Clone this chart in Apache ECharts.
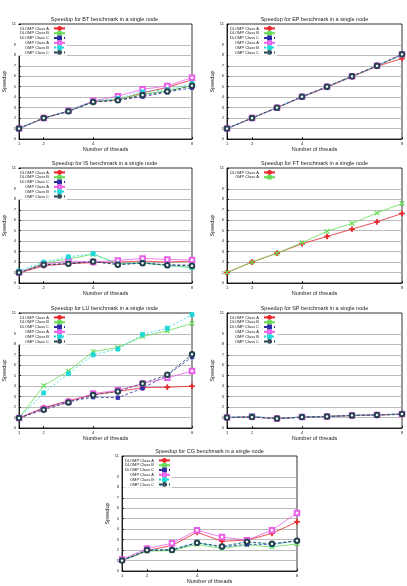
<!DOCTYPE html>
<html><head><meta charset="utf-8">
<script src="https://cdn.jsdelivr.net/npm/echarts@6/dist/echarts.min.js"></script>
<style>html,body{margin:0;padding:0;background:#fff}#c{width:407px;height:586px}</style>
</head><body><div id="c"></div>
<script>
// ---------- data ----------
const threads = [1, 2, 3, 4, 5, 6, 7, 8];
const xTickValues = [1, 2, 4, 8];
const yTickValues = [0, 1, 2, 3, 4, 5, 6, 7, 8, 9, 11];

const BT_DLOMP_A = [1, 2, 2.65, 3.6, 3.75, 4.4, 4.95, 5.65];
const BT_DLOMP_B = [1, 2, 2.65, 3.55, 3.8, 4.3, 4.6, 5.1];
const BT_DLOMP_C = [1, 2, 2.65, 3.55, 3.7, 4.05, 4.5, 4.9];
const BT_OMP_A   = [1, 2, 2.7, 3.65, 4.1, 4.75, 5.08, 5.87];
const BT_OMP_B   = [1, 2, 2.7, 3.6, 3.9, 4.5, 4.72, 5.3];
const BT_OMP_C   = [1, 2, 2.65, 3.55, 3.7, 4.2, 4.55, 5.1];

const EP_DLOMP_A = [1, 2, 3, 4, 4.95, 5.95, 6.95, 7.7];
const EP_DLOMP_B = [1, 2, 3, 4.05, 5, 6, 7, 8.0];
const EP_DLOMP_C = [1, 2, 3, 4.05, 5, 6, 7, 8.1];
const EP_OMP_A   = [1, 2, 3, 4.05, 5, 6, 7, 8.1];
const EP_OMP_B   = [1, 2, 3, 4.05, 5, 6, 7, 8.1];
const EP_OMP_C   = [1, 2, 3, 4.05, 5, 6, 7, 8.1];

const IS_DLOMP_A = [0.95, 1.65, 1.85, 1.95, 2.0, 2.1, 2.0, 2.1];
const IS_DLOMP_B = [1.0, 1.9, 2.3, 2.75, 1.85, 1.9, 1.7, 1.45];
const IS_DLOMP_C = [1.0, 1.75, 1.85, 2.05, 1.8, 1.9, 1.75, 1.7];
const IS_OMP_A   = [1.0, 1.8, 2.1, 2.0, 2.15, 2.35, 2.25, 2.2];
const IS_OMP_B   = [1.15, 2.0, 2.5, 2.8, 1.8, 1.95, 1.65, 1.5];
const IS_OMP_C   = [1.0, 1.75, 1.85, 2.05, 1.75, 1.9, 1.7, 1.65];

const FT_DLOMP_A = [1, 2, 2.85, 3.75, 4.45, 5.15, 5.85, 6.65];
const FT_OMP_A   = [1, 2, 2.85, 3.85, 4.95, 5.7, 6.7, 7.6];

const LU_DLOMP_A = [0.95, 1.95, 2.6, 3.2, 3.5, 3.85, 3.9, 4.0];
const LU_DLOMP_B = [0.95, 4.05, 5.45, 7.3, 7.7, 8.75, 9.3, 10.0];
const LU_DLOMP_C = [0.95, 1.9, 2.55, 2.95, 2.9, 3.8, 5.05, 6.8];
const LU_OMP_A   = [0.95, 1.85, 2.5, 3.3, 3.6, 4.25, 4.8, 5.45];
const LU_OMP_B   = [0.95, 3.35, 5.2, 7.0, 7.55, 8.95, 9.55, 10.85];
const LU_OMP_C   = [0.95, 1.75, 2.45, 3.15, 3.5, 4.25, 5.1, 7.05];

const SP_DLOMP_A = [1.0, 1.05, 0.9, 1.05, 1.1, 1.2, 1.25, 1.3];
const SP_DLOMP_B = [1.0, 1.1, 0.9, 1.05, 1.1, 1.2, 1.25, 1.3];
const SP_DLOMP_C = [1.0, 1.05, 0.9, 1.0, 1.1, 1.2, 1.25, 1.3];
const SP_OMP_A   = [1.0, 1.1, 0.9, 1.05, 1.1, 1.2, 1.25, 1.35];
const SP_OMP_B   = [1.0, 1.15, 0.9, 1.05, 1.1, 1.2, 1.25, 1.35];
const SP_OMP_C   = [1.0, 1.05, 0.9, 1.05, 1.1, 1.2, 1.25, 1.35];

const CG_DLOMP_A = [1.0, 1.95, 2.45, 3.7, 2.85, 2.95, 3.6, 4.7];
const CG_DLOMP_B = [1.0, 1.9, 1.95, 2.55, 2.15, 2.5, 2.3, 2.6];
const CG_DLOMP_C = [1.0, 1.95, 2.05, 2.7, 2.3, 2.55, 2.55, 2.9];
const CG_OMP_A   = [1.1, 2.15, 2.65, 3.9, 3.25, 2.95, 3.9, 5.55];
const CG_OMP_B   = [1.0, 2.05, 2.05, 2.7, 2.3, 2.8, 2.5, 2.9];
const CG_OMP_C   = [1.0, 2.0, 2.0, 2.7, 2.35, 2.8, 2.6, 2.9];

// ---------- styles ----------
const PLUS = 'path://M4,0H6V4H10V6H6V10H4V6H0V4H4Z';
const CROSS = 'path://M1,0L5,4L9,0L10,1L6,5L10,9L9,10L5,6L1,10L0,9L4,5L0,1Z';
const STY = {
  DA: {color: '#e8262b', symbol: PLUS, size: 5, dash: 'solid'},
  DB: {color: '#66dd55', symbol: CROSS, size: 4.5, dash: 'solid'},
  DC: {color: '#2b2ba8', symbol: 'rect', size: 3.5, dash: [3, 2]},
  OA: {color: '#ea5fea', symbol: 'emptyRect', size: 4.5, dash: 'solid'},
  OB: {color: '#1ed8d8', symbol: 'rect', size: 4, dash: [2, 2]},
  OC: {color: '#24424f', symbol: 'emptyCircle', size: 4.5, dash: [3, 2]}
};

const W = 175, H = 115;
const panels = [
  {bench: 'BT', left: 17, top: 24, lines: [
    ['DLOMP Class A', BT_DLOMP_A, 'DA'], ['DLOMP Class B', BT_DLOMP_B, 'DB'], ['DLOMP Class C', BT_DLOMP_C, 'DC'],
    ['OMP Class A', BT_OMP_A, 'OA'], ['OMP Class B', BT_OMP_B, 'OB'], ['OMP Class C', BT_OMP_C, 'OC']]},
  {bench: 'EP', left: 227, top: 24, lines: [
    ['DLOMP Class A', EP_DLOMP_A, 'DA'], ['DLOMP Class B', EP_DLOMP_B, 'DB'], ['DLOMP Class C', EP_DLOMP_C, 'DC'],
    ['OMP Class A', EP_OMP_A, 'OA'], ['OMP Class B', EP_OMP_B, 'OB'], ['OMP Class C', EP_OMP_C, 'OC']]},
  {bench: 'IS', left: 17, top: 168, lines: [
    ['DLOMP Class A', IS_DLOMP_A, 'DA'], ['DLOMP Class B', IS_DLOMP_B, 'DB'], ['DLOMP Class C', IS_DLOMP_C, 'DC'],
    ['OMP Class A', IS_OMP_A, 'OA'], ['OMP Class B', IS_OMP_B, 'OB'], ['OMP Class C', IS_OMP_C, 'OC']]},
  {bench: 'FT', left: 227, top: 168, lines: [
    ['DLOMP Class A', FT_DLOMP_A, 'DA'], ['OMP Class A\u200B', FT_OMP_A, 'DB']]},
  {bench: 'LU', left: 17, top: 313, lines: [
    ['DLOMP Class A', LU_DLOMP_A, 'DA'], ['DLOMP Class B', LU_DLOMP_B, 'DB'], ['DLOMP Class C', LU_DLOMP_C, 'DC'],
    ['OMP Class A', LU_OMP_A, 'OA'], ['OMP Class B', LU_OMP_B, 'OB'], ['OMP Class C', LU_OMP_C, 'OC']]},
  {bench: 'SP', left: 227, top: 313, lines: [
    ['DLOMP Class A', SP_DLOMP_A, 'DA'], ['DLOMP Class B', SP_DLOMP_B, 'DB'], ['DLOMP Class C', SP_DLOMP_C, 'DC'],
    ['OMP Class A', SP_OMP_A, 'OA'], ['OMP Class B', SP_OMP_B, 'OB'], ['OMP Class C', SP_OMP_C, 'OC']]},
  {bench: 'CG', left: 122, top: 456, lines: [
    ['DLOMP Class A', CG_DLOMP_A, 'DA'], ['DLOMP Class B', CG_DLOMP_B, 'DB'], ['DLOMP Class C', CG_DLOMP_C, 'DC'],
    ['OMP Class A', CG_OMP_A, 'OA'], ['OMP Class B', CG_OMP_B, 'OB'], ['OMP Class C', CG_OMP_C, 'OC']]}
];

const FONT = 'Liberation Sans, Arial, sans-serif';
const gridColors = [];
for (let i = 0; i <= 11; i++) gridColors.push(i === 0 || i >= 10 ? 'rgba(0,0,0,0)' : '#ababab');

const option = {
  animation: false,
  backgroundColor: '#fff',
  title: [], grid: [], xAxis: [], yAxis: [], legend: [], series: []
};

panels.forEach((p, i) => {
  option.title.push({
    text: 'Speedup for ' + p.bench + ' benchmark in a single node',
    left: p.left + W / 2, top: p.top - 8, textAlign: 'center', padding: 0,
    textStyle: {fontFamily: FONT, fontSize: 5.5, fontWeight: 'normal', color: '#222'}
  });
  option.grid.push({left: p.left, top: p.top, width: W, height: H, show: true,
    borderColor: '#000', borderWidth: 0.8, backgroundColor: 'transparent'});
  option.xAxis.push({
    type: 'value', gridIndex: i, min: 1, max: 8, interval: 1,
    name: 'Number of threads', nameLocation: 'middle', nameGap: 7,
    nameTextStyle: {fontFamily: FONT, fontSize: 5.5, color: '#222'},
    axisLine: {lineStyle: {color: '#000', width: 0.8}},
    axisTick: {inside: true, length: 2, customValues: xTickValues, lineStyle: {color: '#000', width: 0.8}},
    axisLabel: {customValues: xTickValues, fontFamily: FONT, fontSize: 4, margin: 3, color: '#222'},
    splitLine: {show: false}
  });
  option.yAxis.push({
    type: 'value', gridIndex: i, min: 0, max: 11, interval: 1,
    name: 'Speedup', nameLocation: 'middle', nameGap: 12, nameRotate: 90,
    nameTextStyle: {fontFamily: FONT, fontSize: 5.5, color: '#222'},
    axisLine: {show: true, lineStyle: {color: '#000', width: 0.8}},
    axisTick: {show: true, inside: true, length: 2, customValues: yTickValues, lineStyle: {color: '#000', width: 0.8}},
    axisLabel: {customValues: yTickValues, fontFamily: FONT, fontSize: 4, margin: 3, color: '#222'},
    splitLine: {show: true, lineStyle: {color: gridColors, width: 0.8}}
  });
  option.legend.push({
    orient: 'vertical', left: p.left + 1, top: p.top + 1, align: 'right',
    itemWidth: 11, itemHeight: 3.5, itemGap: 0, padding: 1,
    backgroundColor: '#fff',
    selectedMode: false,
    data: p.lines.map(l => l[0]),
    textStyle: {fontFamily: FONT, fontSize: 4, lineHeight: 4, color: '#222', width: 30, align: 'right'}
  });
  p.lines.forEach(l => {
    const s = STY[l[2]];
    option.series.push({
      type: 'line', name: l[0], xAxisIndex: i, yAxisIndex: i,
      data: threads.map((t, k) => [t, l[1][k]]),
      symbol: s.symbol, symbolSize: s.size, showSymbol: true,
      lineStyle: {color: s.color, width: 0.8, type: s.dash},
      itemStyle: {color: s.color, borderColor: s.color, borderWidth: 0.8},
      emphasis: {disabled: true}
    });
  });
});

const chart = echarts.init(document.getElementById('c'), null, {renderer: 'canvas'});
chart.setOption(option);
</script>
</body></html>
